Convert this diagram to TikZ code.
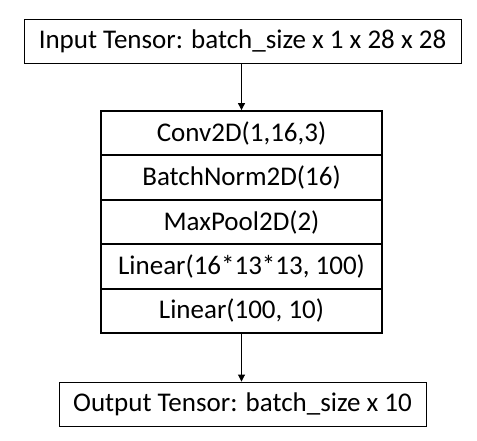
\documentclass[tikz,border=0pt]{standalone}
\usepackage{fontspec}
\setmainfont{Carlito}
\usetikzlibrary{arrows.meta}
\begin{document}
\begin{tikzpicture}[x=1pt,y=-1pt,
  iobox/.style={draw, line width=0.9pt, minimum height=44pt, inner sep=0pt, font=\fontsize{27}{32}\selectfont},
  layer/.style={draw, line width=1.8pt, minimum width=281pt, minimum height=44.4pt, inner sep=0pt, font=\fontsize{27}{32}\selectfont},
  conn/.style={line width=0.9pt, -{Triangle[length=7pt,width=7pt]}}]
\useasboundingbox (0,0) rectangle (477,441);
\node[iobox, minimum width=437pt] (in) at (242.5,41) {Input Tensor: batch\_size x 1 x 28 x 28};
\node[layer] (l1) at (241.5,133.2) {Conv2D(1,16,3)};
\node[layer] (l2) at (241.5,177.6) {BatchNorm2D(16)};
\node[layer] (l3) at (241.5,222) {MaxPool2D(2)};
\node[layer] (l4) at (241.5,266.4) {Linear(16*13*13, 100)};
\node[layer] (l5) at (241.5,310.8) {Linear(100, 10)};
\node[iobox, minimum width=367pt] (out) at (242.5,404) {Output Tensor: batch\_size x 10};
\draw[conn] (in.south -| l1.north) -- (l1.north);
\draw[conn] (l5.south) -- (l5.south |- out.north);
\end{tikzpicture}
\end{document}
